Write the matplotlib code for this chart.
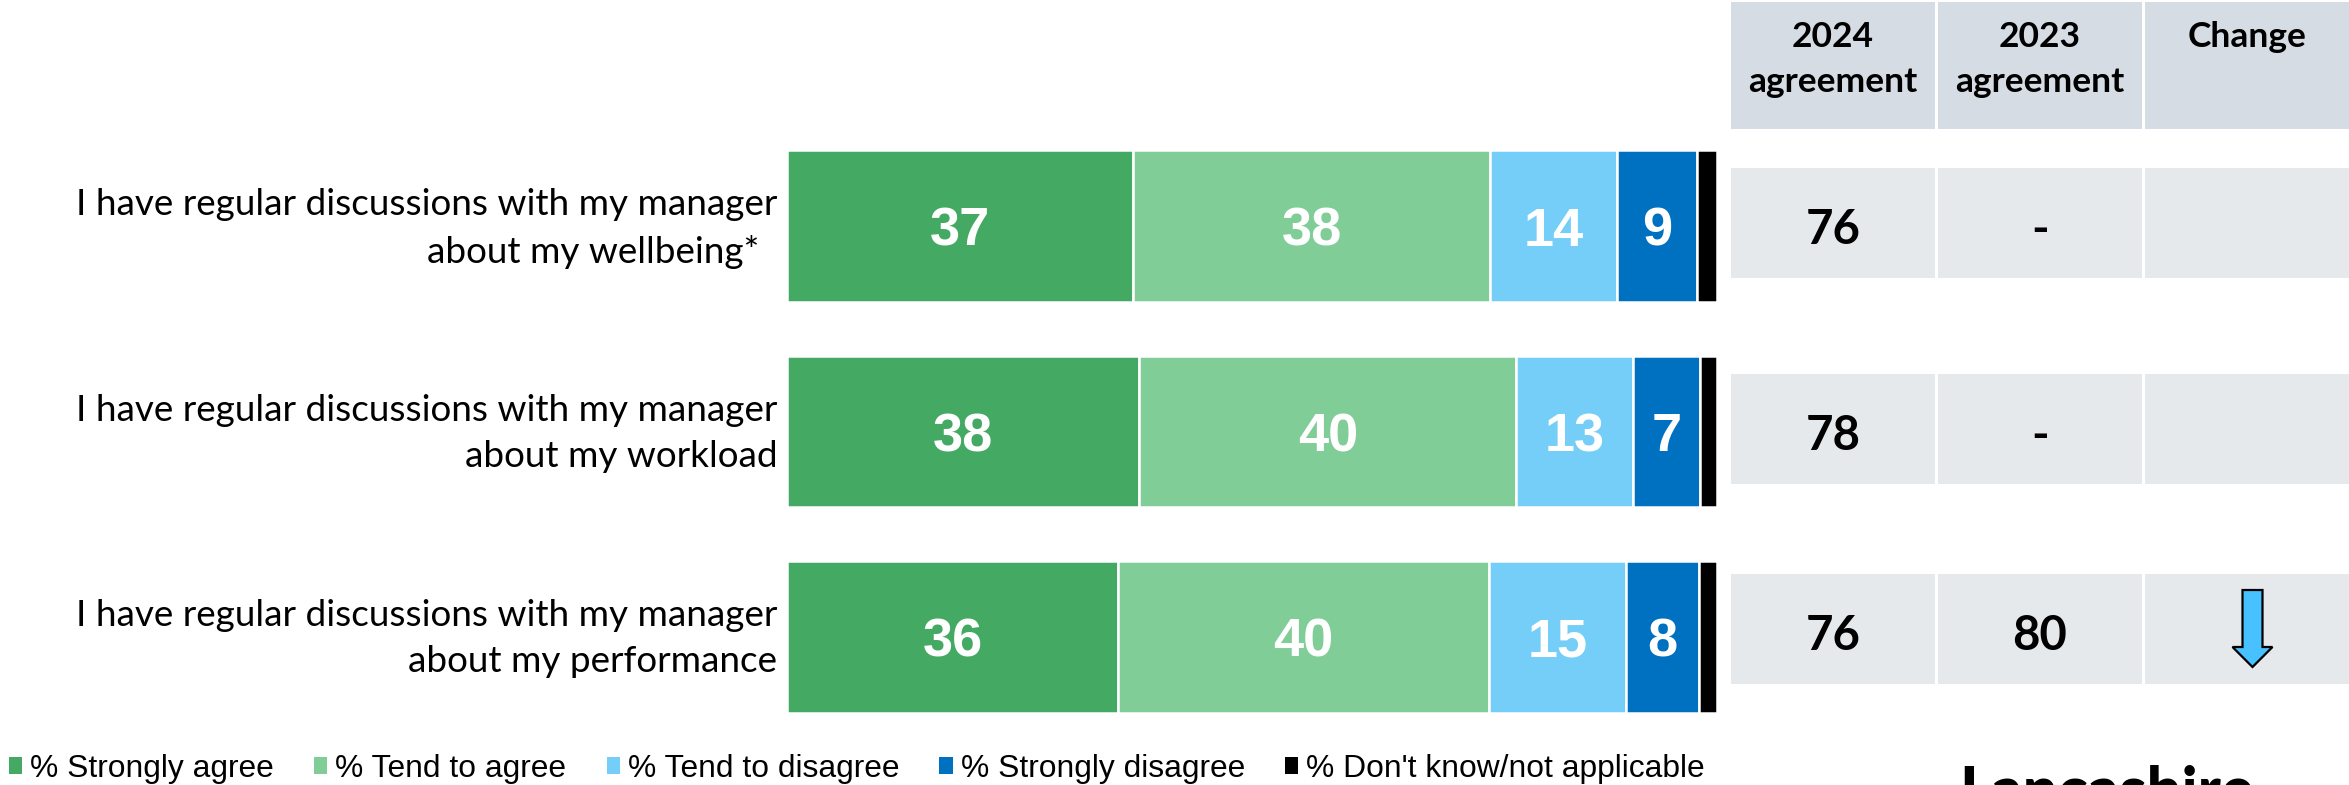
import matplotlib
matplotlib.use("Agg")
import matplotlib.pyplot as plt
from matplotlib.patches import Patch, Polygon, Rectangle
from matplotlib.transforms import ScaledTranslation
import numpy as np

W, H = 2349, 785

# values
questions = [
    "I have regular discussions with my manager\nabout my wellbeing*\u2002",
    "I have regular discussions with my manager\nabout my workload",
    "I have regular discussions with my manager\nabout my performance",
]
series_names = ["% Strongly agree", "% Tend to agree", "% Tend to disagree",
                "% Strongly disagree", "% Don't know/not applicable"]
strongly_agree = [37.2, 37.9, 35.6]
tend_agree = [38.4, 40.5, 39.9]
tend_disagree = [13.7, 12.6, 14.7]
strongly_disagree = [8.6, 7.2, 7.9]
dont_know = [2.1, 1.8, 1.9]

bar_labels = [["37", "38", "14", "9", ""],
              ["38", "40", "13", "7", ""],
              ["36", "40", "15", "8", ""]]

table_headers = ["2024\nagreement", "2023\nagreement", "Change"]
agree_2024 = ["76", "78", "76"]
agree_2023 = ["-", "-", "80"]
change = ["", "", "down"]

colors = ["#44A963", "#81CD98", "#74CEF8", "#0070C0", "#000000"]

BODY_FONT = "Lato"

fig = plt.figure(figsize=(W / 100, H / 100), dpi=100)


def px_axes(x0, y0, x1, y1):
    # axes placed by pixel box, y measured from the top
    return fig.add_axes([x0 / W, 1 - y1 / H, (x1 - x0) / W, (y1 - y0) / H])


# stacked bars
ax = px_axes(787, 123.5, 1717, 739.5)
series = [strongly_agree, tend_agree, tend_disagree, strongly_disagree, dont_know]
y = np.arange(len(questions))
left = np.zeros(len(questions))
for i, vals in enumerate(series):
    bars = ax.barh(y, vals, left=left, height=0.74, color=colors[i],
                   edgecolor="white", linewidth=1.8, label=series_names[i])
    for j, b in enumerate(bars):
        ax.text(left[j] + vals[j] / 2, y[j], bar_labels[j][i], ha="center", va="center_baseline",
                color="white", fontsize=39, fontweight="bold", family="Liberation Sans")
    left = left + np.array(vals)

ax.set_xlim(0, 100)
ax.set_ylim(2.5, -0.5)
ax.set_yticks(y)
ax.set_yticklabels(questions, family=BODY_FONT, fontsize=26.6, ha="right",
                   multialignment="right", linespacing=1.5)
ax.tick_params(axis="y", length=0, pad=7)
# labels sit a little above the bar centre
up = ScaledTranslation(0, 8 / 100, fig.dpi_scale_trans)
for lab in ax.get_yticklabels():
    lab.set_transform(lab.get_transform() + up)
ax.set_xticks([])
for s in ax.spines.values():
    s.set_visible(False)
ax.patch.set_alpha(0)

handles = [Patch(facecolor=c, edgecolor="none") for c in colors]
ax.legend(handles, series_names, loc="center left", bbox_to_anchor=(9 / W, 1 - 769 / H),
          bbox_transform=fig.transFigure, ncol=5, frameon=False, borderpad=0, borderaxespad=0,
          prop={"family": "Liberation Sans", "size": 22.9}, handlelength=0.42, handleheight=0.42,
          handletextpad=0.25, columnspacing=1.26, labelcolor="black")

# table on the right, in pixel coordinates
tb = fig.add_axes([0, 0, 1, 1])
tb.set_xlim(0, W)
tb.set_ylim(H, 0)
tb.axis("off")
tb.patch.set_alpha(0)

col_x = [(1731, 1935), (1938, 2142), (2145, 2349)]
rows_y = [(168, 278), (374, 484), (574, 684)]

for (x0, x1), head in zip(col_x, table_headers):
    tb.add_patch(Rectangle((x0, 2), x1 - x0, 127, facecolor="#D6DCE4", edgecolor="none"))
    tb.text((x0 + x1) / 2, 21, head, ha="center", va="top", fontsize=25.5, fontweight="bold",
            family=BODY_FONT, linespacing=1.5, color="black")

for r, (y0, y1) in enumerate(rows_y):
    cells = [agree_2024[r], agree_2023[r], ""]
    for (x0, x1), txt in zip(col_x, cells):
        tb.add_patch(Rectangle((x0, y0), x1 - x0, y1 - y0, facecolor="#E5E9EC", edgecolor="none"))
        tb.text((x0 + x1) / 2, (y0 + y1) / 2 + 3, txt, ha="center", va="center_baseline",
                fontsize=34, fontweight="bold", family=BODY_FONT, color="black")
    if change[r] == "down":
        # block arrow, same shape as the reference
        cx = sum(col_x[2]) / 2 + 5.5
        top = y0 + 16
        tb.add_patch(Polygon([(cx - 10, top), (cx + 10, top), (cx + 10, top + 57), (cx + 20, top + 57),
                              (cx, top + 77), (cx - 20, top + 57), (cx - 10, top + 57)],
                             closed=True, facecolor="#47C1FF", edgecolor="black", linewidth=1.6))

# logo text cut off by the bottom edge
tb.text(2107, 765, "Lancashire", ha="center", va="top", fontsize=44.5, fontweight="black",
        family=BODY_FONT, color="black", clip_on=False)

fig.savefig("out.png", dpi=100)
